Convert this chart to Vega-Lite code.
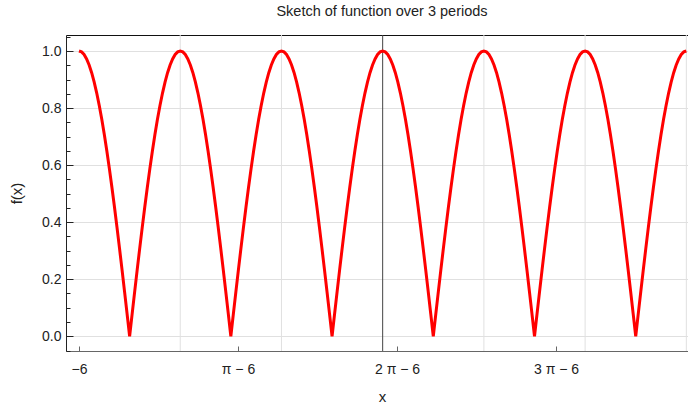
{
  "$schema": "https://vega.github.io/schema/vega-lite/v6.json",
  "width": 622,
  "height": 316,
  "autosize": {"type": "none"},
  "padding": {"left": 66, "top": 35, "right": 0, "bottom": 55},
  "background": "white",
  "config": {"view": {"stroke": null}, "font": "Liberation Sans"},
  "title": {"text": "Sketch of function over 3 periods", "font": "Liberation Sans", "fontSize": 14.5, "fontWeight": "normal", "color": "#222222", "offset": 10, "dx": 5},
  "datasets": {
    "curve": [
      {"x": -6, "y": 1}, {"x": -5.95, "y": 0.99692}, {"x": -5.9, "y": 0.98769}, {"x": -5.85, "y": 0.97237}, {"x": -5.8, "y": 0.95106}, {"x": -5.75, "y": 0.92388}, {"x": -5.7, "y": 0.89101}, {"x": -5.65, "y": 0.85264}, {"x": -5.6, "y": 0.80902}, {"x": -5.55, "y": 0.76041}, {"x": -5.5, "y": 0.70711}, {"x": -5.45, "y": 0.64945}, {"x": -5.4, "y": 0.58779}, {"x": -5.35, "y": 0.5225}, {"x": -5.3, "y": 0.45399}, {"x": -5.25, "y": 0.38268}, {"x": -5.2, "y": 0.30902}, {"x": -5.15, "y": 0.23345}, {"x": -5.1, "y": 0.15643}, {"x": -5.05, "y": 0.07846},
      {"x": -5, "y": 0}, {"x": -4.95, "y": 0.07846}, {"x": -4.9, "y": 0.15643}, {"x": -4.85, "y": 0.23345}, {"x": -4.8, "y": 0.30902}, {"x": -4.75, "y": 0.38268}, {"x": -4.7, "y": 0.45399}, {"x": -4.65, "y": 0.5225}, {"x": -4.6, "y": 0.58779}, {"x": -4.55, "y": 0.64945}, {"x": -4.5, "y": 0.70711}, {"x": -4.45, "y": 0.76041}, {"x": -4.4, "y": 0.80902}, {"x": -4.35, "y": 0.85264}, {"x": -4.3, "y": 0.89101}, {"x": -4.25, "y": 0.92388}, {"x": -4.2, "y": 0.95106}, {"x": -4.15, "y": 0.97237}, {"x": -4.1, "y": 0.98769}, {"x": -4.05, "y": 0.99692},
      {"x": -4, "y": 1}, {"x": -3.95, "y": 0.99692}, {"x": -3.9, "y": 0.98769}, {"x": -3.85, "y": 0.97237}, {"x": -3.8, "y": 0.95106}, {"x": -3.75, "y": 0.92388}, {"x": -3.7, "y": 0.89101}, {"x": -3.65, "y": 0.85264}, {"x": -3.6, "y": 0.80902}, {"x": -3.55, "y": 0.76041}, {"x": -3.5, "y": 0.70711}, {"x": -3.45, "y": 0.64945}, {"x": -3.4, "y": 0.58779}, {"x": -3.35, "y": 0.5225}, {"x": -3.3, "y": 0.45399}, {"x": -3.25, "y": 0.38268}, {"x": -3.2, "y": 0.30902}, {"x": -3.15, "y": 0.23345}, {"x": -3.1, "y": 0.15643}, {"x": -3.05, "y": 0.07846},
      {"x": -3, "y": 0}, {"x": -2.95, "y": 0.07846}, {"x": -2.9, "y": 0.15643}, {"x": -2.85, "y": 0.23345}, {"x": -2.8, "y": 0.30902}, {"x": -2.75, "y": 0.38268}, {"x": -2.7, "y": 0.45399}, {"x": -2.65, "y": 0.5225}, {"x": -2.6, "y": 0.58779}, {"x": -2.55, "y": 0.64945}, {"x": -2.5, "y": 0.70711}, {"x": -2.45, "y": 0.76041}, {"x": -2.4, "y": 0.80902}, {"x": -2.35, "y": 0.85264}, {"x": -2.3, "y": 0.89101}, {"x": -2.25, "y": 0.92388}, {"x": -2.2, "y": 0.95106}, {"x": -2.15, "y": 0.97237}, {"x": -2.1, "y": 0.98769}, {"x": -2.05, "y": 0.99692},
      {"x": -2, "y": 1}, {"x": -1.95, "y": 0.99692}, {"x": -1.9, "y": 0.98769}, {"x": -1.85, "y": 0.97237}, {"x": -1.8, "y": 0.95106}, {"x": -1.75, "y": 0.92388}, {"x": -1.7, "y": 0.89101}, {"x": -1.65, "y": 0.85264}, {"x": -1.6, "y": 0.80902}, {"x": -1.55, "y": 0.76041}, {"x": -1.5, "y": 0.70711}, {"x": -1.45, "y": 0.64945}, {"x": -1.4, "y": 0.58779}, {"x": -1.35, "y": 0.5225}, {"x": -1.3, "y": 0.45399}, {"x": -1.25, "y": 0.38268}, {"x": -1.2, "y": 0.30902}, {"x": -1.15, "y": 0.23345}, {"x": -1.1, "y": 0.15643}, {"x": -1.05, "y": 0.07846},
      {"x": -1, "y": 0}, {"x": -0.95, "y": 0.07846}, {"x": -0.9, "y": 0.15643}, {"x": -0.85, "y": 0.23345}, {"x": -0.8, "y": 0.30902}, {"x": -0.75, "y": 0.38268}, {"x": -0.7, "y": 0.45399}, {"x": -0.65, "y": 0.5225}, {"x": -0.6, "y": 0.58779}, {"x": -0.55, "y": 0.64945}, {"x": -0.5, "y": 0.70711}, {"x": -0.45, "y": 0.76041}, {"x": -0.4, "y": 0.80902}, {"x": -0.35, "y": 0.85264}, {"x": -0.3, "y": 0.89101}, {"x": -0.25, "y": 0.92388}, {"x": -0.2, "y": 0.95106}, {"x": -0.15, "y": 0.97237}, {"x": -0.1, "y": 0.98769}, {"x": -0.05, "y": 0.99692},
      {"x": 0, "y": 1}, {"x": 0.05, "y": 0.99692}, {"x": 0.1, "y": 0.98769}, {"x": 0.15, "y": 0.97237}, {"x": 0.2, "y": 0.95106}, {"x": 0.25, "y": 0.92388}, {"x": 0.3, "y": 0.89101}, {"x": 0.35, "y": 0.85264}, {"x": 0.4, "y": 0.80902}, {"x": 0.45, "y": 0.76041}, {"x": 0.5, "y": 0.70711}, {"x": 0.55, "y": 0.64945}, {"x": 0.6, "y": 0.58779}, {"x": 0.65, "y": 0.5225}, {"x": 0.7, "y": 0.45399}, {"x": 0.75, "y": 0.38268}, {"x": 0.8, "y": 0.30902}, {"x": 0.85, "y": 0.23345}, {"x": 0.9, "y": 0.15643}, {"x": 0.95, "y": 0.07846},
      {"x": 1, "y": 0}, {"x": 1.05, "y": 0.07846}, {"x": 1.1, "y": 0.15643}, {"x": 1.15, "y": 0.23345}, {"x": 1.2, "y": 0.30902}, {"x": 1.25, "y": 0.38268}, {"x": 1.3, "y": 0.45399}, {"x": 1.35, "y": 0.5225}, {"x": 1.4, "y": 0.58779}, {"x": 1.45, "y": 0.64945}, {"x": 1.5, "y": 0.70711}, {"x": 1.55, "y": 0.76041}, {"x": 1.6, "y": 0.80902}, {"x": 1.65, "y": 0.85264}, {"x": 1.7, "y": 0.89101}, {"x": 1.75, "y": 0.92388}, {"x": 1.8, "y": 0.95106}, {"x": 1.85, "y": 0.97237}, {"x": 1.9, "y": 0.98769}, {"x": 1.95, "y": 0.99692},
      {"x": 2, "y": 1}, {"x": 2.05, "y": 0.99692}, {"x": 2.1, "y": 0.98769}, {"x": 2.15, "y": 0.97237}, {"x": 2.2, "y": 0.95106}, {"x": 2.25, "y": 0.92388}, {"x": 2.3, "y": 0.89101}, {"x": 2.35, "y": 0.85264}, {"x": 2.4, "y": 0.80902}, {"x": 2.45, "y": 0.76041}, {"x": 2.5, "y": 0.70711}, {"x": 2.55, "y": 0.64945}, {"x": 2.6, "y": 0.58779}, {"x": 2.65, "y": 0.5225}, {"x": 2.7, "y": 0.45399}, {"x": 2.75, "y": 0.38268}, {"x": 2.8, "y": 0.30902}, {"x": 2.85, "y": 0.23345}, {"x": 2.9, "y": 0.15643}, {"x": 2.95, "y": 0.07846},
      {"x": 3, "y": 0}, {"x": 3.05, "y": 0.07846}, {"x": 3.1, "y": 0.15643}, {"x": 3.15, "y": 0.23345}, {"x": 3.2, "y": 0.30902}, {"x": 3.25, "y": 0.38268}, {"x": 3.3, "y": 0.45399}, {"x": 3.35, "y": 0.5225}, {"x": 3.4, "y": 0.58779}, {"x": 3.45, "y": 0.64945}, {"x": 3.5, "y": 0.70711}, {"x": 3.55, "y": 0.76041}, {"x": 3.6, "y": 0.80902}, {"x": 3.65, "y": 0.85264}, {"x": 3.7, "y": 0.89101}, {"x": 3.75, "y": 0.92388}, {"x": 3.8, "y": 0.95106}, {"x": 3.85, "y": 0.97237}, {"x": 3.9, "y": 0.98769}, {"x": 3.95, "y": 0.99692},
      {"x": 4, "y": 1}, {"x": 4.05, "y": 0.99692}, {"x": 4.1, "y": 0.98769}, {"x": 4.15, "y": 0.97237}, {"x": 4.2, "y": 0.95106}, {"x": 4.25, "y": 0.92388}, {"x": 4.3, "y": 0.89101}, {"x": 4.35, "y": 0.85264}, {"x": 4.4, "y": 0.80902}, {"x": 4.45, "y": 0.76041}, {"x": 4.5, "y": 0.70711}, {"x": 4.55, "y": 0.64945}, {"x": 4.6, "y": 0.58779}, {"x": 4.65, "y": 0.5225}, {"x": 4.7, "y": 0.45399}, {"x": 4.75, "y": 0.38268}, {"x": 4.8, "y": 0.30902}, {"x": 4.85, "y": 0.23345}, {"x": 4.9, "y": 0.15643}, {"x": 4.95, "y": 0.07846},
      {"x": 5, "y": 0}, {"x": 5.05, "y": 0.07846}, {"x": 5.1, "y": 0.15643}, {"x": 5.15, "y": 0.23345}, {"x": 5.2, "y": 0.30902}, {"x": 5.25, "y": 0.38268}, {"x": 5.3, "y": 0.45399}, {"x": 5.35, "y": 0.5225}, {"x": 5.4, "y": 0.58779}, {"x": 5.45, "y": 0.64945}, {"x": 5.5, "y": 0.70711}, {"x": 5.55, "y": 0.76041}, {"x": 5.6, "y": 0.80902}, {"x": 5.65, "y": 0.85264}, {"x": 5.7, "y": 0.89101}, {"x": 5.75, "y": 0.92388}, {"x": 5.8, "y": 0.95106}, {"x": 5.85, "y": 0.97237}, {"x": 5.9, "y": 0.98769}, {"x": 5.95, "y": 0.99692},
      {"x": 6, "y": 1}
    ],
    "grid": [{"g": -4}, {"g": -2}, {"g": 2}, {"g": 4}, {"g": 6}],
    "origin": [{"g": 0}]
  },
  "resolve": {"axis": {"x": "independent"}},
  "layer": [
    {
      "data": {"name": "grid"},
      "mark": {"type": "rule", "color": "#e0e0e0", "strokeWidth": 1},
      "encoding": {
        "x": {"field": "g", "type": "quantitative", "scale": {"domain": [-6.257, 6.033], "nice": false, "zero": false},
          "axis": {"orient": "top", "domain": true, "domainColor": "#111111", "domainWidth": 1, "ticks": false, "labels": false, "grid": false, "title": null}}
      }
    },
    {
      "data": {"name": "origin"},
      "mark": {"type": "rule", "color": "#444444", "strokeWidth": 1},
      "encoding": {
        "x": {"field": "g", "type": "quantitative", "scale": {"domain": [-6.257, 6.033], "nice": false, "zero": false}, "axis": null}
      }
    },
    {
      "data": {"name": "curve"},
      "mark": {"type": "line", "color": "#ff0000", "strokeWidth": 3, "interpolate": "linear", "clip": true},
      "encoding": {
        "x": {"field": "x", "type": "quantitative", "scale": {"domain": [-6.257, 6.033], "nice": false, "zero": false},
          "axis": {"orient": "bottom", "values": [-6, -2.858407, 0.283185, 3.424778],
            "labelExpr": "datum.value < -5 ? '−6' : datum.value < -2 ? 'π − 6' : datum.value < 1 ? '2 π − 6' : '3 π − 6'",
            "grid": false, "domainColor": "#666666", "tickColor": "#666666", "tickSize": -5, "labelPadding": 16,
            "labelFont": "Liberation Sans", "labelFontSize": 14, "labelColor": "#222222", "labelFlush": false,
            "title": "x", "titleFont": "Liberation Sans", "titleFontSize": 15, "titleFontWeight": "normal", "titleColor": "#222222",
            "titleX": 316, "titleY": 50, "titleBaseline": "alphabetic"}},
        "y": {"field": "y", "type": "quantitative", "scale": {"domain": [-0.0516, 1.0561], "nice": false, "zero": false},
          "axis": {"orient": "left",
            "values": [-0.05, 0, 0.05, 0.1, 0.15, 0.2, 0.25, 0.3, 0.35, 0.4, 0.45, 0.5, 0.55, 0.6, 0.65, 0.7, 0.75, 0.8, 0.85, 0.9, 0.95, 1, 1.05],
            "labelExpr": "abs(datum.value*5 - round(datum.value*5)) < 0.001 ? format(datum.value, '.1f') : ''",
            "tickSize": {"condition": {"test": "abs(datum.value*5 - round(datum.value*5)) < 0.001", "value": -7}, "value": -4},
            "gridOpacity": {"condition": {"test": "abs(datum.value*5 - round(datum.value*5)) < 0.001", "value": 1}, "value": 0},
            "grid": true, "gridColor": "#e0e0e0", "gridWidth": 1,
            "domainColor": "#222222", "tickColor": "#222222", "labelPadding": 12,
            "labelFont": "Liberation Sans", "labelFontSize": 14, "labelColor": "#222222", "labelFlush": false, "labelOverlap": false,
            "title": "f(x)", "titleFont": "Liberation Sans", "titleFontSize": 15, "titleFontWeight": "normal", "titleColor": "#222222",
            "titleX": -42, "titleY": 158}}
      }
    }
  ]
}
